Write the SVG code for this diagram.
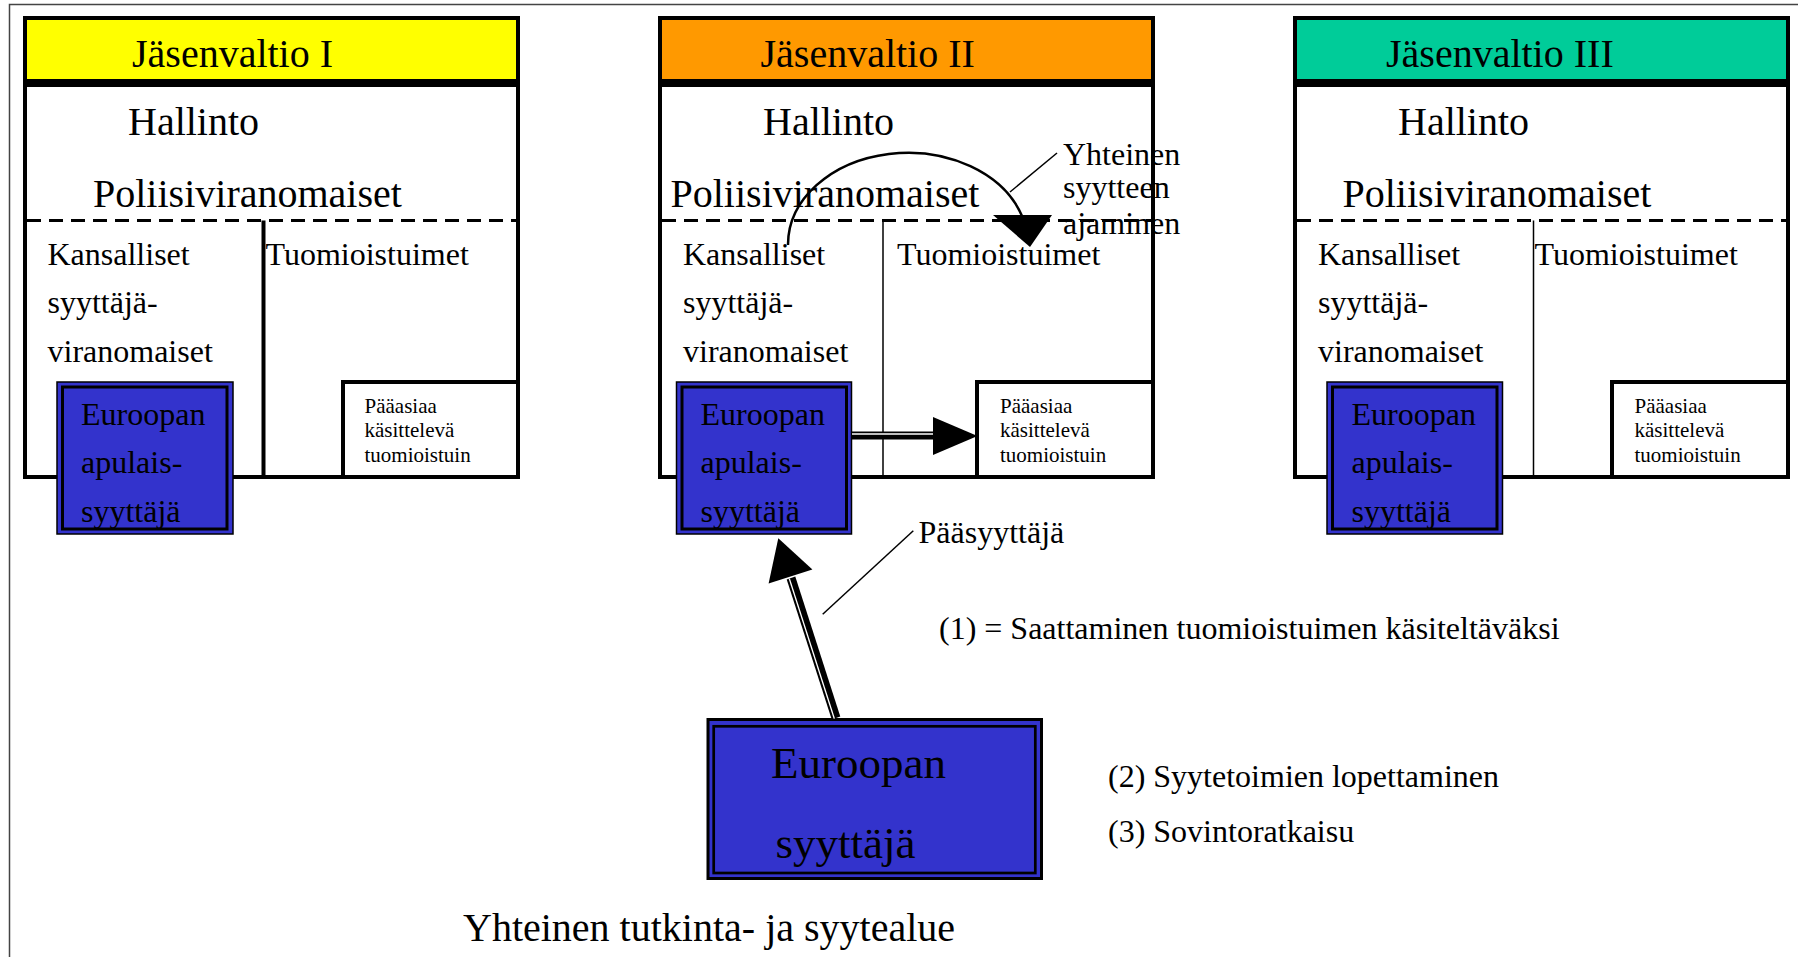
<svg xmlns="http://www.w3.org/2000/svg" width="1798" height="957" viewBox="0 0 1798 957">
<style>
text{font-family:"Liberation Serif","Times New Roman",serif;fill:#000}
.t40{font-size:40px}
.t45{font-size:45px}
.t32{font-size:32px}
.t21{font-size:21px}
.box{stroke:#000;stroke-width:4}
.dash{stroke:#000;stroke-width:3;stroke-dasharray:14 8;fill:none}
.ep{fill:#3333CC;stroke:#000;stroke-width:1.5}
.epi{fill:none;stroke:#000;stroke-width:3}
.ln{stroke:#000;fill:none}
</style>
<rect width="1798" height="957" fill="#fff"/>
<path d="M9.5,957 V4.5 H1798" fill="none" stroke="#444" stroke-width="1.5"/>

<g id="state1">
<rect class="box" x="25" y="18" width="493" height="63" fill="#FFFF00"/>
<rect class="box" x="25" y="85" width="493" height="392" fill="#fff"/>
<line class="dash" x1="27" y1="220.5" x2="516" y2="220.5"/>
<line class="ln" x1="263.5" y1="220.5" x2="263.5" y2="477" stroke-width="4"/>
<rect class="box" x="343" y="382" width="175" height="95" fill="#fff"/>
<text class="t40" x="132" y="67">Jäsenvaltio I</text>
<text class="t40" x="128" y="135">Hallinto</text>
<text class="t40" x="93" y="207">Poliisiviranomaiset</text>
<text class="t32" x="47.5" y="265">Kansalliset</text>
<text class="t32" x="47.5" y="313">syyttäjä-</text>
<text class="t32" x="47.5" y="362">viranomaiset</text>
<text class="t32" x="265.5" y="265">Tuomioistuimet</text>
<text class="t21" x="364.5" y="413">Pääasiaa</text>
<text class="t21" x="364.5" y="437">käsittelevä</text>
<text class="t21" x="364.5" y="461.5">tuomioistuin</text>
</g>
<g id="apulais1">
<rect class="ep" x="57" y="382" width="176" height="152"/>
<rect class="epi" x="62.5" y="387" width="164.5" height="142"/>
<text class="t32" x="81" y="425">Euroopan</text>
<text class="t32" x="81" y="473">apulais-</text>
<text class="t32" x="81" y="521.5">syyttäjä</text>
</g>

<g id="state2">
<rect class="box" x="660" y="18" width="493" height="63" fill="#FF9900"/>
<rect class="box" x="660" y="85" width="493" height="392" fill="#fff"/>
<line class="dash" x1="662" y1="220.5" x2="1151" y2="220.5"/>
<line class="ln" x1="883" y1="220.5" x2="883" y2="477" stroke-width="1.5"/>
<rect class="box" x="977" y="382" width="176" height="95" fill="#fff"/>
<text class="t40" x="760.5" y="67">Jäsenvaltio II</text>
<text class="t40" x="763" y="135">Hallinto</text>
<text class="t40" x="670.5" y="207">Poliisiviranomaiset</text>
<text class="t32" x="683" y="265">Kansalliset</text>
<text class="t32" x="683" y="313">syyttäjä-</text>
<text class="t32" x="683" y="362">viranomaiset</text>
<text class="t32" x="897" y="265">Tuomioistuimet</text>
<text class="t21" x="1000" y="413">Pääasiaa</text>
<text class="t21" x="1000" y="437">käsittelevä</text>
<text class="t21" x="1000" y="461.5">tuomioistuin</text>
</g>
<g id="apulais2">
<rect class="ep" x="676.5" y="382" width="175" height="152"/>
<rect class="epi" x="682" y="387" width="164.5" height="142"/>
<text class="t32" x="700.5" y="425">Euroopan</text>
<text class="t32" x="700.5" y="473">apulais-</text>
<text class="t32" x="700.5" y="521.5">syyttäjä</text>
</g>

<g id="state3">
<rect class="box" x="1295" y="18" width="493" height="63" fill="#00CC99"/>
<rect class="box" x="1295" y="85" width="493" height="392" fill="#fff"/>
<line class="dash" x1="1297" y1="220.5" x2="1786" y2="220.5"/>
<line class="ln" x1="1533.5" y1="220.5" x2="1533.5" y2="477" stroke-width="1.5"/>
<rect class="box" x="1612" y="382" width="176" height="95" fill="#fff"/>
<text class="t40" x="1386" y="67">Jäsenvaltio III</text>
<text class="t40" x="1398" y="135">Hallinto</text>
<text class="t40" x="1342.5" y="207">Poliisiviranomaiset</text>
<text class="t32" x="1318" y="265">Kansalliset</text>
<text class="t32" x="1318" y="313">syyttäjä-</text>
<text class="t32" x="1318" y="362">viranomaiset</text>
<text class="t32" x="1534.5" y="265">Tuomioistuimet</text>
<text class="t21" x="1634.5" y="413">Pääasiaa</text>
<text class="t21" x="1634.5" y="437">käsittelevä</text>
<text class="t21" x="1634.5" y="461.5">tuomioistuin</text>
</g>
<g id="apulais3">
<rect class="ep" x="1327" y="382" width="175.5" height="152"/>
<rect class="epi" x="1332.5" y="387" width="164.5" height="142"/>
<text class="t32" x="1351.5" y="425">Euroopan</text>
<text class="t32" x="1351.5" y="473">apulais-</text>
<text class="t32" x="1351.5" y="521.5">syyttäjä</text>
</g>

<g id="euroopan-syyttaja">
<rect x="708" y="719.5" width="333.5" height="159" fill="#3333CC" stroke="#000" stroke-width="3"/>
<rect x="713.7" y="726.3" width="321.6" height="146.7" fill="none" stroke="#000" stroke-width="2.7"/>
<text class="t45" x="771" y="778">Euroopan</text>
<text class="t45" x="775.5" y="858">syyttäjä</text>
</g>

<g id="connectors">
<path class="ln" d="M788,245 A120,92 0 0 1 1022,216" stroke-width="2.5"/>
<polygon points="993,215 1052,215 1030,247" fill="#000"/>
<line class="ln" x1="1010" y1="192" x2="1057" y2="153" stroke-width="1.5"/>
<line class="ln" x1="852" y1="435.5" x2="934" y2="435.5" stroke-width="8"/>
<line x1="852" y1="434" x2="934" y2="434" stroke="#fff" stroke-width="1.4"/>
<polygon points="933,417 977.5,436 933,455" fill="#000"/>
<line class="ln" x1="836" y1="718" x2="791" y2="578" stroke-width="9"/>
<line x1="834.3" y1="718.6" x2="789.3" y2="578.6" stroke="#fff" stroke-width="1.4"/>
<polygon points="778.3,538.3 812.4,569.4 768.6,583.4" fill="#000"/>
<line class="ln" x1="822.7" y1="614.3" x2="913.3" y2="530.7" stroke-width="1.5"/>
</g>

<g id="labels">
<text class="t32" x="1063" y="165">Yhteinen</text>
<text class="t32" x="1063" y="198">syytteen</text>
<text class="t32" x="1063" y="234">ajaminen</text>
<text class="t32" x="918.5" y="543">Pääsyyttäjä</text>
<text class="t32" x="939" y="638.5">(1) = Saattaminen tuomioistuimen käsiteltäväksi</text>
<text class="t32" x="1108" y="787">(2) Syytetoimien lopettaminen</text>
<text class="t32" x="1108" y="842">(3) Sovintoratkaisu</text>
<text class="t40" x="463" y="941">Yhteinen tutkinta- ja syytealue</text>
</g>
</svg>
